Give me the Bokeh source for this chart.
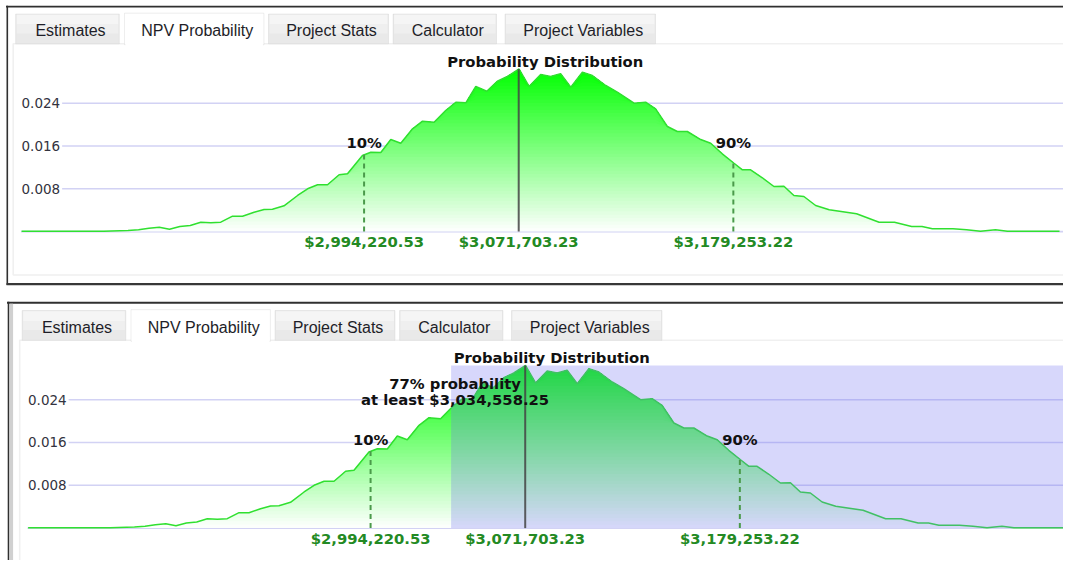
import numpy as np
from bokeh.plotting import figure
from bokeh.models import Range1d, Label, BoxAnnotation
from bokeh.layouts import column
from bokeh.embed import file_html
from bokeh.resources import INLINE

# ---------------- data ----------------
npv = [2822600, 2846800, 2863800, 2875900, 2881200, 2886400, 2891600, 2896700,
       2901900, 2907100, 2912400, 2917400, 2922400, 2928300, 2933300, 2939100,
       2944100, 2948300, 2954100, 2960900, 2965900, 2970900, 2975900, 2981700,
       2985900, 2993400, 2997600, 3002600, 3007600, 3012600, 3018500, 3023500,
       3029300, 3035100, 3040200, 3045200, 3050200, 3055700, 3061000, 3066000,
       3071900, 3076900, 3082700, 3087700, 3092700, 3097800, 3103600, 3108600,
       3115300, 3121100, 3129500, 3135300, 3140300, 3146200, 3151200, 3156200,
       3162900, 3167900, 3173700, 3179600, 3183800, 3187900, 3193800, 3199600,
       3204600, 3209600, 3214600, 3220500, 3227300, 3241000, 3252300, 3260000,
       3268600, 3273800, 3279000, 3289300, 3296100, 3303100, 3310600, 3316600,
       3342700]
prob = [0.00008, 0.00008, 0.00008, 0.00021, 0.00034, 0.00064, 0.00082, 0.00045,
        0.00095, 0.00114, 0.00176, 0.00164, 0.00176, 0.00288, 0.00288, 0.00363,
        0.00413, 0.00419, 0.00482, 0.00675, 0.00800, 0.00875, 0.00875, 0.01062,
        0.01080, 0.01422, 0.01484, 0.01478, 0.01721, 0.01652, 0.01921, 0.02063,
        0.02045, 0.02263, 0.02418, 0.02407, 0.02712, 0.02624, 0.02811, 0.02899,
        0.03039, 0.02712, 0.02936, 0.02899, 0.02949, 0.02699, 0.02979, 0.02917,
        0.02731, 0.02605, 0.02400, 0.02418, 0.02295, 0.01964, 0.01871, 0.01871,
        0.01721, 0.01652, 0.01454, 0.01278, 0.01155, 0.01155, 0.01006, 0.00843,
        0.00849, 0.00675, 0.00656, 0.00488, 0.00407, 0.00333, 0.00176, 0.00176,
        0.00095, 0.00095, 0.00052, 0.00052, 0.00034, 0.00008, 0.00034, 0.00008,
        0.00008]
y_ticks = [0.008, 0.016, 0.024]
y_tick_labels = ["0.008", "0.016", "0.024"]
grid_levels = [0.0, 0.008, 0.016, 0.024]
x_axis_range = [2822300, 3347700]
p10 = 2994220.53
p50 = 3071703.23
p90 = 3179253.22
threshold = 3034558.25
threshold_pct = 77
chart_title = "Probability Distribution"
tab_names = ["Estimates", "NPV Probability", "Project Stats", "Calculator", "Project Variables"]
active_tab = 1

# ---------------- layout constants (picture pixels) ----------------
W = 1063
PLOT_L, PLOT_R, PLOT_T, PLOT_B = 20.5, 1069.0, 68.5, 231.1
TAB_EDGES = [(15.2, 118.8), (124.0, 263.4), (268.0, 388.0), (392.6, 496.0), (504.5, 655.0)]

BOLD = "DejaVu Sans"
BOLD_SIZE = "14.8px"
GREEN_TOP = np.array([0, 255, 0])
WHITE = np.array([255, 255, 255])


def hexcol(rgb):
    return "#%02x%02x%02x" % tuple(int(round(c)) for c in rgb)


def money(v):
    return "${:,.2f}".format(v)


def make_panel(fig_top, H, dx, dy, highlight):
    x0, x1 = x_axis_range
    y0, y1 = 0.0, max(prob)
    sx = (x1 - x0) / (PLOT_R - PLOT_L)
    sy = (y1 - y0) / (PLOT_B - PLOT_T)
    left_c = PLOT_L + dx
    top_c = PLOT_T + dy - fig_top
    bottom_c = PLOT_B + dy - fig_top
    xr = Range1d(x0 - left_c * sx, x0 + (W - left_c) * sx)
    yr = Range1d(y0 - (H - bottom_c) * sy, y1 + top_c * sy)

    p = figure(width=W, height=H, x_range=xr, y_range=yr, output_backend="svg",
               toolbar_location=None, x_axis_location=None, y_axis_location=None,
               min_border=0, min_border_left=0, min_border_right=0,
               min_border_top=0, min_border_bottom=0)
    p.grid.visible = False
    p.outline_line_color = None
    p.background_fill_color = "white"
    p.border_fill_color = "white"

    def cx(px):
        return px + dx

    def cy(py):  # screen y (from bottom) for a panel-relative y
        return H - (py + dy - fig_top)

    def sbox(l, r, t, b, **kw):  # panel-relative box
        p.add_layout(BoxAnnotation(left=cx(l), right=cx(r), top=cy(t), bottom=cy(b),
                                   left_units="screen", right_units="screen",
                                   top_units="screen", bottom_units="screen", **kw))

    def abox(l, r, t, b, **kw):  # absolute picture box
        p.add_layout(BoxAnnotation(left=l, right=r, top=H - (t - fig_top),
                                   bottom=H - (b - fig_top),
                                   left_units="screen", right_units="screen",
                                   top_units="screen", bottom_units="screen",
                                   line_color=None, fill_alpha=1, **kw))

    # gridlines
    p.segment(x0=[x0] * len(grid_levels), y0=grid_levels, x1=[x1] * len(grid_levels),
              y1=grid_levels, line_color="#d2d2f4", line_width=1.6)

    # gradient area
    pr = np.array(prob)
    N = 48
    for i in range(N):
        b = y1 * i / N
        t = (i + 0.5) / N
        c = WHITE + (GREEN_TOP - WHITE) * t
        p.varea(x=npv, y1=np.minimum(pr, b), y2=pr, fill_color=hexcol(c), fill_alpha=1.0)
    p.line(npv, prob, line_color="#30e030", line_width=1.5)

    if highlight:
        p.quad(left=[threshold], right=[x1], bottom=[0], top=[y1],
               fill_color="#6e6ef0", fill_alpha=0.28, line_color=None)

    # median line
    p.segment(x0=[p50], y0=[0], x1=[p50], y1=[y1], line_color="#444444",
              line_width=2, line_alpha=0.85)
    # percentile dashed lines
    h10 = float(np.interp(p10, npv, prob))
    h90 = float(np.interp(p90, npv, prob))
    p.segment(x0=[p10, p90], y0=[0, 0], x1=[p10, p90], y1=[h10, h90],
              line_color="#4a9a4a", line_width=2, line_dash="5 4")

    # y tick labels
    for yv, lab in zip(y_ticks, y_tick_labels):
        p.add_layout(Label(x=x0, y=yv, x_offset=-1.5, text=lab, text_align="left",
                           text_baseline="middle", text_font="DejaVu Sans",
                           text_font_size="13.5px", text_color="#333340",
                           background_fill_color="white", padding=2))
    # dollar labels
    for v in (p10, p50, p90):
        p.add_layout(Label(x=v, y=0, y_offset=-10, text=money(v), text_align="center",
                           text_baseline="middle", text_font=BOLD,
                           text_font_style="bold", text_font_size=BOLD_SIZE,
                           text_color="#238a23"))
    # percentile labels
    hy = max(h10, h90)
    for v, lab in ((p10, "10%"), (p90, "90%")):
        p.add_layout(Label(x=v, y=hy, y_offset=12, text=lab, text_align="center",
                           text_baseline="middle", text_font=BOLD,
                           text_font_style="bold", text_font_size=BOLD_SIZE,
                           text_color="#111111"))
    # title
    p.add_layout(Label(x=(x0 + x1) / 2, y=y1, y_offset=8, text=chart_title,
                       text_align="center", text_baseline="middle", text_font=BOLD,
                       text_font_style="bold", text_font_size=BOLD_SIZE,
                       text_color="#111111"))
    if highlight:
        for lab, off in (("%d%% probability" % threshold_pct, -18.0),
                         ("at least " + money(threshold), -34.3)):
            p.add_layout(Label(x=threshold, y=y1, x_offset=4, y_offset=off, text=lab,
                               text_align="center", text_baseline="middle",
                               text_font=BOLD, text_font_style="bold",
                               text_font_size=BOLD_SIZE, text_color="#111111"))

    # content box
    sbox(12.7, 1076, 43.3, 274.5, fill_alpha=0, line_color="#cdcdcd", line_width=1.6)
    # tabs
    for i, (name, (l, r)) in enumerate(zip(tab_names, TAB_EDGES)):
        if i == active_tab:
            sbox(l, r, 12.7, 44.3, fill_color="white", fill_alpha=1,
                 line_color="#c6c6c6", line_width=1)
            sbox(l + 1, r - 1, 40, 46, fill_color="white", fill_alpha=1, line_color=None)
        else:
            sbox(l, r, 13.5, 43.3, fill_color="#e9e9e9", fill_alpha=1,
                 line_color="#c6c6c6", line_width=1)
            sbox(l + 1, r - 1, 14.3, 24, fill_color="#f5f5f5", fill_alpha=1, line_color=None)
            sbox(l + 1, r - 1, 24, 33, fill_color="#efefef", fill_alpha=1, line_color=None)
        p.add_layout(Label(x=cx((l + r) / 2 + 3), y=cy(30.4), x_units="screen",
                           y_units="screen", text=name, text_align="center",
                           text_baseline="middle", text_font="Liberation Sans",
                           text_font_size="16px", text_color="#1e1e28"))

    # outer dark frame
    if not highlight:
        abox(5.5, 1090, 5.2, 7.0, fill_color="#303030")
        abox(6.0, 7.6, 5.2, 284.6, fill_color="#303030")
        abox(6.0, 1090, 282.6, 284.8, fill_color="#383838")
    else:
        abox(6.5, 1090, 301.3, 303.2, fill_color="#303030")
        abox(7.2, 8.8, 301.3, 600, fill_color="#303030")
        abox(9.2, 12.6, 303.2, 600, fill_color="#d0d0d0")
    return p


p1 = make_panel(0, 292, 0.0, 0.0, False)
p2 = make_panel(292, 268, 6.5, 296.5, True)
layout = column(p1, p2)

open("out.html", "w").write(file_html(layout, INLINE))
